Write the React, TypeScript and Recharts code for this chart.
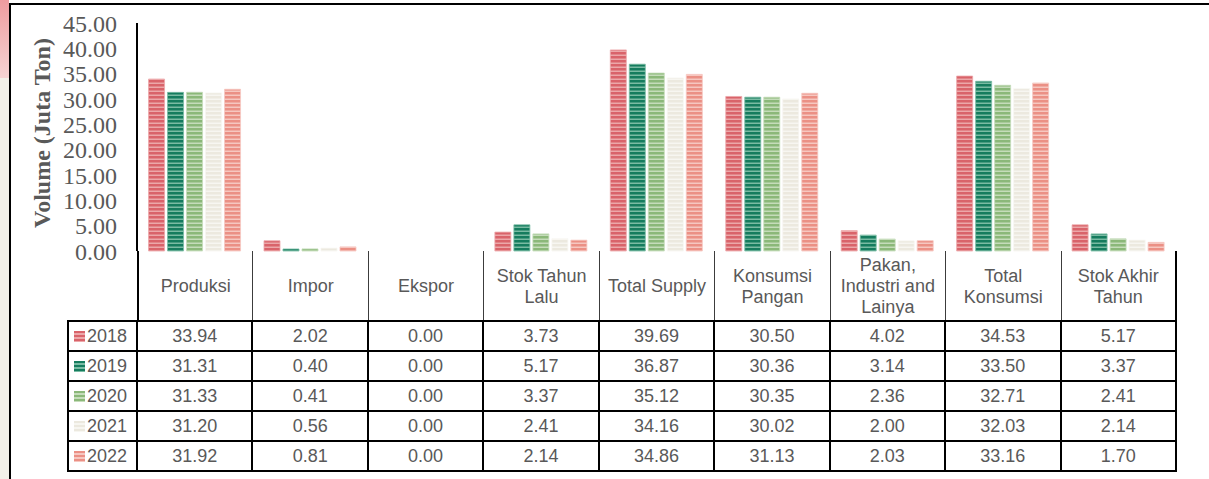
import React from 'react';
import { BarChart, Bar, XAxis, YAxis } from 'recharts';

// Neraca data (Juta Ton)
const categories = [
  'Produksi',
  'Impor',
  'Ekspor',
  'Stok Tahun Lalu',
  'Total Supply',
  'Konsumsi Pangan',
  'Pakan, Industri and Lainya',
  'Total Konsumsi',
  'Stok Akhir Tahun',
];
const years = ['2018', '2019', '2020', '2021', '2022'];
const values2018 = [33.94, 2.02, 0.0, 3.73, 39.69, 30.5, 4.02, 34.53, 5.17];
const values2019 = [31.31, 0.4, 0.0, 5.17, 36.87, 30.36, 3.14, 33.5, 3.37];
const values2020 = [31.33, 0.41, 0.0, 3.37, 35.12, 30.35, 2.36, 32.71, 2.41];
const values2021 = [31.2, 0.56, 0.0, 2.41, 34.16, 30.02, 2.0, 32.03, 2.14];
const values2022 = [31.92, 0.81, 0.0, 2.14, 34.86, 31.13, 2.03, 33.16, 1.7];
const yTicks = [0, 5, 10, 15, 20, 25, 30, 35, 40, 45];

const seriesValues = [values2018, values2019, values2020, values2021, values2022];
const darkColors = ['#d9636a', '#157c5e', '#8bb879', '#ece9df', '#eb9085'];
const lightColors = ['#eca7a9', '#79bba3', '#c5dcba', '#f7f6f1', '#f6c7c0'];

const data = categories.map((name, i) => {
  const row: Record<string, string | number> = { name };
  years.forEach((y, s) => {
    row[y] = seriesValues[s][i];
  });
  return row;
});

const W = 1209;
const H = 479;
const PLOT_LEFT = 137;
const PLOT_RIGHT = 1176;
const PLOT_TOP = 23;
const AXIS_Y = 251;
const CHART_BOTTOM_PAD = 16;
const BAND = (PLOT_RIGHT - PLOT_LEFT) / categories.length;
const HEADER_H = 70;
const ROW_H = 30;
const LEGEND_LEFT = 68;

const textGray = '#595959';
const sans = '"Liberation Sans", Arial, sans-serif';
const serif = '"Liberation Serif", "Times New Roman", serif';

const stripe = (s: number) =>
  `repeating-linear-gradient(to bottom, ${darkColors[s]} 0px, ${darkColors[s]} 2.5px, ${lightColors[s]} 2.5px, ${lightColors[s]} 4px)`;

const DataTable: React.FC = () => {
  const cells: React.ReactNode[] = [];
  categories.forEach((c, i) => {
    const x = PLOT_LEFT + i * BAND;
    cells.push(
      <div
        key={`h${i}`}
        style={{
          position: 'absolute',
          left: x,
          top: AXIS_Y,
          width: BAND + 1,
          height: HEADER_H + 1,
          boxSizing: 'border-box',
          borderLeft: i === 0 ? '2px solid #000' : '1px solid #3c3c3c',
          borderRight: i === categories.length - 1 ? '2px solid #000' : '1px solid #3c3c3c',
          display: 'flex',
          alignItems: 'center',
          justifyContent: 'center',
          textAlign: 'center',
          padding: '0 3px',
          fontFamily: sans,
          fontSize: 18,
          lineHeight: '21px',
          color: textGray,
        }}
      >
        {c}
      </div>
    );
  });
  years.forEach((y, s) => {
    const top = AXIS_Y + HEADER_H + s * ROW_H;
    cells.push(
      <div
        key={`l${s}`}
        style={{
          position: 'absolute',
          left: LEGEND_LEFT - 1,
          top: top - 1,
          width: PLOT_LEFT - LEGEND_LEFT + 2,
          height: ROW_H + 2,
          boxSizing: 'border-box',
          border: '2px solid #000',
          display: 'flex',
          alignItems: 'center',
          fontFamily: sans,
          fontSize: 18,
          color: textGray,
        }}
      >
        <span
          style={{
            display: 'inline-block',
            width: 11,
            height: 11,
            marginLeft: 5,
            marginRight: 2,
            background: stripe(s),
          }}
        />
        {y}
      </div>
    );
    seriesValues[s].forEach((v, i) => {
      const x = PLOT_LEFT + i * BAND;
      cells.push(
        <div
          key={`c${s}-${i}`}
          style={{
            position: 'absolute',
            left: x - 1,
            top: top - 1,
            width: BAND + 2,
            height: ROW_H + 2,
            boxSizing: 'border-box',
            border: '2px solid #000',
            display: 'flex',
            alignItems: 'center',
            justifyContent: 'center',
            fontFamily: sans,
            fontSize: 18,
            color: textGray,
          }}
        >
          {v.toFixed(2)}
        </div>
      );
    });
  });
  return <>{cells}</>;
};

const App: React.FC = () => {
  return (
    <div
      style={{
        position: 'absolute',
        left: 0,
        top: 0,
        width: W,
        height: H,
        background: '#fff',
        overflow: 'hidden',
      }}
    >
      {/* page strip on the left */}
      <div
        style={{
          position: 'absolute',
          left: 0,
          top: 0,
          width: 9,
          height: 78,
          background: 'linear-gradient(to bottom, #ee9b9f, #f6d3d3)',
        }}
      />
      <div
        style={{
          position: 'absolute',
          left: 0,
          top: 78,
          width: 9,
          height: H - 78,
          background: '#f3f0e9',
        }}
      />
      {/* frame */}
      <div
        style={{
          position: 'absolute',
          left: 9,
          top: 3,
          width: W,
          height: H,
          borderTop: '2px solid #000',
          borderLeft: '2px solid #000',
          boxSizing: 'border-box',
        }}
      />
      <div style={{ position: 'absolute', left: 0, top: 0 }}>
        <BarChart
          width={W}
          height={AXIS_Y + CHART_BOTTOM_PAD}
          data={data}
          margin={{ top: PLOT_TOP, right: W - PLOT_RIGHT, left: PLOT_LEFT - 80, bottom: CHART_BOTTOM_PAD }}
          barCategoryGap="10%"
          barGap={3}
        >
          <defs>
            {years.map((y, s) => (
              <pattern
                key={y}
                id={`stripe${y}`}
                patternUnits="userSpaceOnUse"
                width={4}
                height={4}
              >
                <rect x={0} y={0} width={4} height={4} fill={lightColors[s]} />
                <rect x={0} y={0} width={4} height={2.5} fill={darkColors[s]} />
              </pattern>
            ))}
          </defs>
          <XAxis dataKey="name" hide />
          <YAxis
            width={80}
            domain={[0, 45]}
            ticks={yTicks}
            interval={0}
            tickLine={false}
            tickSize={0}
            tickMargin={20}
            tickFormatter={(v: number) => v.toFixed(2)}
            tick={{ fill: textGray, fontFamily: serif, fontSize: 24 }}
            axisLine={{ stroke: '#000', strokeWidth: 2 }}
            label={{
              content: () => (
                <text
                  x={42}
                  y={133}
                  transform="rotate(-90 42 133)"
                  textAnchor="middle"
                  dominantBaseline="central"
                  fill={textGray}
                  fontFamily={serif}
                  fontWeight="bold"
                  fontSize={24}
                >
                  Volume (Juta Ton)
                </text>
              ),
            }}
          />
          {years.map((y, s) => (
            <Bar
              key={y}
              dataKey={y}
              fill={`url(#stripe${y})`}
              stroke={lightColors[s]}
              strokeWidth={0.8}
              isAnimationActive={false}
            />
          ))}
        </BarChart>
      </div>
      <DataTable />
    </div>
  );
};

export default App;
